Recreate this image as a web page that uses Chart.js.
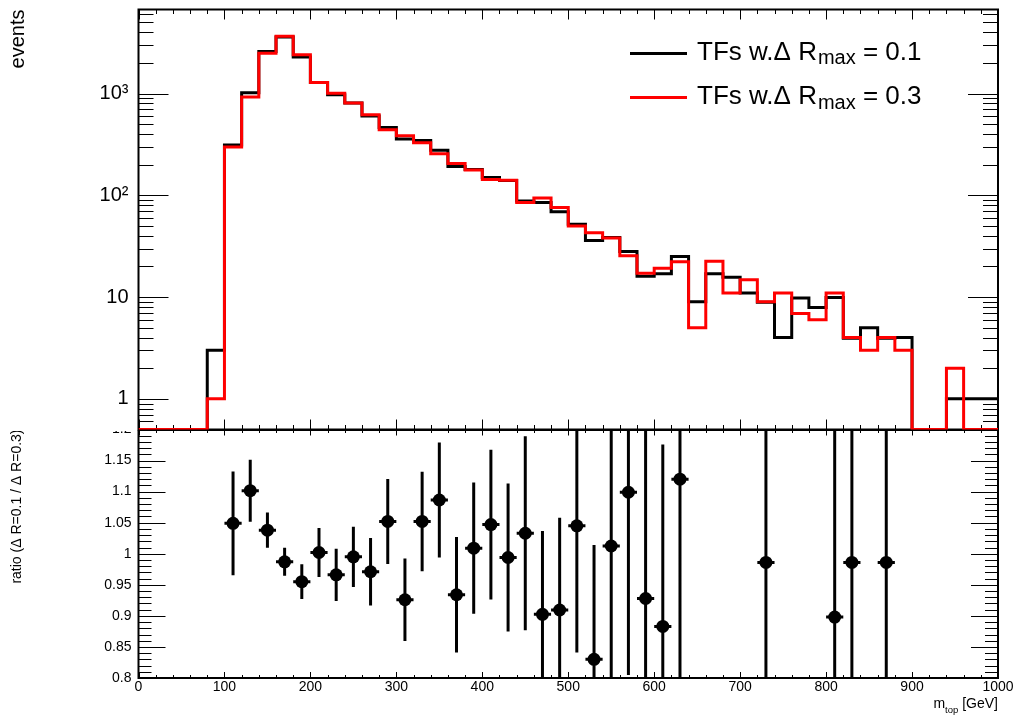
<!DOCTYPE html>
<html><head><meta charset="utf-8">
<script src="https://cdn.jsdelivr.net/npm/chart.js@4.4.1/dist/chart.umd.min.js"></script>
<style>
html,body{margin:0;padding:0;background:#fff;}
#wrap{position:relative;width:1018px;height:724px;overflow:hidden;background:#fff;}
#c2{position:absolute;left:0;top:0;}
#c1{position:absolute;left:0;top:0;background:#fff;}
</style></head><body>
<div id="wrap"><canvas id="c2" width="1018" height="724"></canvas><canvas id="c1" width="1018" height="431"></canvas></div>
<script>
// ---------------- data ----------------
const binLow = [0,20,40,60,80,100,120,140,160,180,200,220,240,260,280,300,320,340,360,380,400,420,440,460,480,500,520,540,560,580,600,620,640,660,680,700,720,740,760,780,800,820,840,860,880,900,920,940,960,980];
const binWidth = 20;
const eventsDR01 = [0,0,0,0,3,313,1019,2585,3600,2292,1288,976,806,602,465,357,345,278,192,179,150,140,88,85,69,52,36,38.5,28,16,17,25,9,17,15.7,11,8.9,4,9.8,7.9,9.9,3.95,5,3.95,4,0,0,1,1,1];
const eventsDR03 = [0,0,0,0,1,298,925,2490,3650,2400,1285,1010,810,620,442,385,328,256,205,177,143,141,85,94,76,50,43,38,25.5,17.2,19.2,22.3,5,22.5,11,14.8,9,11,6.9,6,11,4,3,4,3,0,0,2,0,0];

const ratioX = [110,130,150,170,190,210,230,250,270,290,310,330,350,370,390,410,430,450,470,490,510,530,550,570,590,610,630,730,810,830,870];
const ratioVal = [1.049,1.1015,1.038,0.987,0.955,1.002,0.966,0.995,0.971,1.052,0.926,1.052,1.0865,0.934,1.009,1.047,0.994,1.033,0.9025,0.9095,1.045,0.830,1.0125,1.099,0.928,0.883,1.120,0.986,0.898,0.986,0.986];
const ratioErr = [0.0835,0.05,0.0285,0.0225,0.028,0.0395,0.042,0.0485,0.0545,0.0685,0.0665,0.08,0.0925,0.093,0.1055,0.1205,0.119,0.156,0.134,0.1485,0.204,0.184,0.25,0.294,0.33,0.293,0.4,0.5,0.4,0.7,0.7];

const xTickValues = [0,100,200,300,400,500,600,700,800,900,1000];
const xTickLabels = ['0','100','200','300','400','500','600','700','800','900','1000'];
const yLogTickValues = [1,10,100,1000];
const yLogTickLabels = ['1','10','10\u00B2','10\u00B3'];
const ratioTickValues = [0.8,0.85,0.9,0.95,1,1.05,1.1,1.15,1.2];
const ratioTickLabels = ['0.8','0.85','0.9','0.95','1','1.05','1.1','1.15','1.2'];

const legendNames = ['TFs w.\u0394 R', 'TFs w.\u0394 R'];
const legendSubs = ['max', 'max'];
const legendValues = [' = 0.1', ' = 0.3'];
const seriesColors = ['#000000', '#ff0000'];

const FONT = '"Liberation Sans", Arial, Helvetica, sans-serif';
const yMin = 0.5, yMax = 6700;

// ---------------- helpers ----------------
function stepData(vals) {
  const d = binLow.map((x, i) => ({x: x, y: vals[i] > 0 ? vals[i] : yMin}));
  d.push({x: binLow[binLow.length - 1] + binWidth, y: d[d.length - 1].y});
  return d;
}

function drawTickSet(ctx, chart, o) {
  const {left, right, top, bottom} = chart.chartArea;
  const xs = chart.scales.x, ys = chart.scales.y;
  ctx.save();
  ctx.strokeStyle = '#000';
  ctx.lineWidth = 1;
  ctx.beginPath();
  for (let v = 0; v <= 1000; v += 20) {
    const px = Math.round(xs.getPixelForValue(v)) + 0.5;
    const major = v % 100 === 0;
    const lb = major ? o.xMajB : o.xMinB;
    const lt = major ? o.xMajT : o.xMinT;
    ctx.moveTo(px, bottom); ctx.lineTo(px, bottom - lb);
    ctx.moveTo(px, top); ctx.lineTo(px, top + lt);
  }
  o.yMajors.forEach(v => {
    const py = Math.round(ys.getPixelForValue(v)) + 0.5;
    ctx.moveTo(left, py); ctx.lineTo(left + o.yMaj, py);
    ctx.moveTo(right, py); ctx.lineTo(right - o.yMaj, py);
  });
  o.yMinors.forEach(v => {
    const py = Math.round(ys.getPixelForValue(v)) + 0.5;
    ctx.moveTo(left, py); ctx.lineTo(left + o.yMin, py);
    ctx.moveTo(right, py); ctx.lineTo(right - o.yMin, py);
  });
  ctx.stroke();
  ctx.lineWidth = 2;
  ctx.strokeRect(left, top, right - left, bottom - top);
  ctx.restore();
}

// log minor ticks
const logMinors = [];
[0.1, 1, 10, 100, 1000].forEach(d => {
  for (let k = 2; k <= 9; k++) { const v = k * d; if (v >= yMin && v <= yMax) logMinors.push(v); }
});
const ratioMinors = [];
for (let i = 80; i <= 120; i++) { if (i % 5 !== 0) ratioMinors.push(i / 100); }

const topAxesPlugin = {
  id: 'topAxes',
  beforeDatasetsDraw(chart) {
    drawTickSet(chart.ctx, chart, {xMajB: 10, xMinB: 4.5, xMajT: 10, xMinT: 4.5,
      yMaj: 30, yMin: 15, yMajors: yLogTickValues, yMinors: logMinors});
  },
  afterDatasetsDraw(chart) {
    const ctx = chart.ctx, a = chart.chartArea;
    ctx.save();
    ctx.fillStyle = '#000';
    ctx.fillRect(a.left - 1, a.bottom + 0.5, a.right - a.left + 2, 1);
    ctx.restore();
  },
  afterDraw(chart) {
    const ctx = chart.ctx;
    ctx.save();
    const lineY = [53.5, 97.5];
    const baseY = [59.5, 104];
    for (let i = 0; i < 2; i++) {
      ctx.strokeStyle = seriesColors[i];
      ctx.lineWidth = 3;
      ctx.beginPath(); ctx.moveTo(630, lineY[i]); ctx.lineTo(687, lineY[i]); ctx.stroke();
      ctx.fillStyle = '#000';
      ctx.textBaseline = 'alphabetic';
      ctx.textAlign = 'left';
      let x = 697;
      ctx.font = '26px ' + FONT;
      ctx.fillText(legendNames[i], x, baseY[i]);
      x += ctx.measureText(legendNames[i]).width + 1;
      ctx.font = '20px ' + FONT;
      ctx.fillText(legendSubs[i], x, baseY[i] + 4.5);
      x += ctx.measureText(legendSubs[i]).width;
      ctx.font = '26px ' + FONT;
      ctx.fillText(legendValues[i], x, baseY[i]);
    }
    ctx.restore();
  }
};

const bottomAxesPlugin = {
  id: 'bottomAxes',
  beforeDatasetsDraw(chart) {
    const ctx = chart.ctx, a = chart.chartArea;
    const xs = chart.scales.x, ys = chart.scales.y;
    ctx.save();
    ctx.beginPath(); ctx.rect(a.left, a.top, a.right - a.left, a.bottom - a.top); ctx.clip();
    ctx.strokeStyle = '#000';
    ctx.lineWidth = 3;
    ctx.beginPath();
    ratioX.forEach((x, i) => {
      const px = xs.getPixelForValue(x);
      const py = ys.getPixelForValue(ratioVal[i]);
      ctx.moveTo(px, ys.getPixelForValue(ratioVal[i] + ratioErr[i]));
      ctx.lineTo(px, ys.getPixelForValue(ratioVal[i] - ratioErr[i]));
      ctx.moveTo(xs.getPixelForValue(x - binWidth / 2), py);
      ctx.lineTo(xs.getPixelForValue(x + binWidth / 2), py);
    });
    ctx.stroke();
    ctx.restore();
  },
  afterDatasetsDraw(chart) {
    drawTickSet(chart.ctx, chart, {xMajB: 6, xMinB: 3, xMajT: 6, xMinT: 3.5,
      yMaj: 27, yMin: 13, yMajors: ratioTickValues, yMinors: ratioMinors});
  },
  afterDraw(chart) {
    const ctx = chart.ctx;
    ctx.save();
    ctx.fillStyle = '#000';
    ctx.textBaseline = 'alphabetic';
    ctx.textAlign = 'left';
    const parts = [['m', 14, 0], ['top', 9.5, 4.5], [' [GeV]', 14, 0]];
    let total = 0;
    parts.forEach(p => { ctx.font = p[1] + 'px ' + FONT; total += ctx.measureText(p[0]).width; });
    let x = 998 - total;
    parts.forEach(p => { ctx.font = p[1] + 'px ' + FONT; ctx.fillText(p[0], x, 708 + p[2]); x += ctx.measureText(p[0]).width; });
    ctx.restore();
  }
};

// ---------------- top chart ----------------
new Chart(document.getElementById('c1'), {
  type: 'line',
  data: {
    datasets: [
      {label: 'TFs w.\u0394 R max = 0.1', data: stepData(eventsDR01), borderColor: seriesColors[0], borderWidth: 3,
       stepped: 'before', pointRadius: 0, fill: false, order: 2, borderJoinStyle: 'miter', borderCapStyle: 'butt'},
      {label: 'TFs w.\u0394 R max = 0.3', data: stepData(eventsDR03), borderColor: seriesColors[1], borderWidth: 3,
       stepped: 'before', pointRadius: 0, fill: false, order: 1, borderJoinStyle: 'miter', borderCapStyle: 'butt'}
    ]
  },
  options: {
    responsive: false, animation: false, devicePixelRatio: 1,
    layout: {padding: {left: 0, right: 20, top: 9.5, bottom: 1.5}},
    plugins: {legend: {display: false}, tooltip: {enabled: false}},
    scales: {
      x: {type: 'linear', min: 0, max: 1000, display: false},
      y: {
        type: 'logarithmic', min: yMin, max: yMax,
        afterBuildTicks: s => { s.ticks = yLogTickValues.map(v => ({value: v})); },
        afterFit: s => { s.width = 138.5; s.paddingTop = 0; s.paddingBottom = 0; },
        grid: {display: false, drawTicks: false}, border: {display: false},
        ticks: {padding: 10, color: '#000', font: {family: FONT, size: 20},
          callback: (v) => { const i = yLogTickValues.indexOf(v); return i >= 0 ? yLogTickLabels[i] : ''; }},
        title: {display: true, text: 'events', align: 'end', color: '#000',
          font: {family: FONT, size: 20}, padding: {top: 6, bottom: 0}}
      }
    }
  },
  plugins: [topAxesPlugin]
});

// ---------------- ratio chart ----------------
new Chart(document.getElementById('c2'), {
  type: 'scatter',
  data: {
    datasets: [{label: 'ratio', data: ratioX.map((x, i) => ({x: x, y: ratioVal[i]})),
      pointRadius: 6.5, pointBackgroundColor: '#000', pointBorderColor: '#000', pointBorderWidth: 0, showLine: false}]
  },
  options: {
    responsive: false, animation: false, devicePixelRatio: 1,
    layout: {padding: {left: 0, right: 20, top: 429.5, bottom: 0}},
    plugins: {legend: {display: false}, tooltip: {enabled: false}},
    scales: {
      x: {
        type: 'linear', min: 0, max: 1000,
        afterBuildTicks: s => { s.ticks = xTickValues.map(v => ({value: v})); },
        afterFit: s => { s.height = 46; s.paddingLeft = 0; s.paddingRight = 0; },
        grid: {display: false, drawTicks: false}, border: {display: false},
        ticks: {padding: 1, maxRotation: 0, autoSkip: false, color: '#000', font: {family: FONT, size: 14},
          callback: (v) => { const i = xTickValues.indexOf(v); return i >= 0 ? xTickLabels[i] : ''; }}
      },
      y: {
        type: 'linear', min: 0.8, max: 1.2,
        afterBuildTicks: s => { s.ticks = ratioTickValues.map(v => ({value: v})); },
        afterFit: s => { s.width = 138.5; s.paddingTop = 0; s.paddingBottom = 0; },
        grid: {display: false, drawTicks: false}, border: {display: false},
        ticks: {padding: 7, color: '#000', font: {family: FONT, size: 14},
          callback: (v) => { const i = ratioTickValues.findIndex(t => Math.abs(t - v) < 1e-9); return i >= 0 ? ratioTickLabels[i] : ''; }},
        title: {display: true, text: 'ratio (\u0394 R=0.1 / \u0394 R=0.3)', align: 'end', color: '#000',
          font: {family: FONT, size: 14}, padding: {top: 8.9, bottom: 0}}
      }
    }
  },
  plugins: [bottomAxesPlugin]
});
</script>
</body></html>
